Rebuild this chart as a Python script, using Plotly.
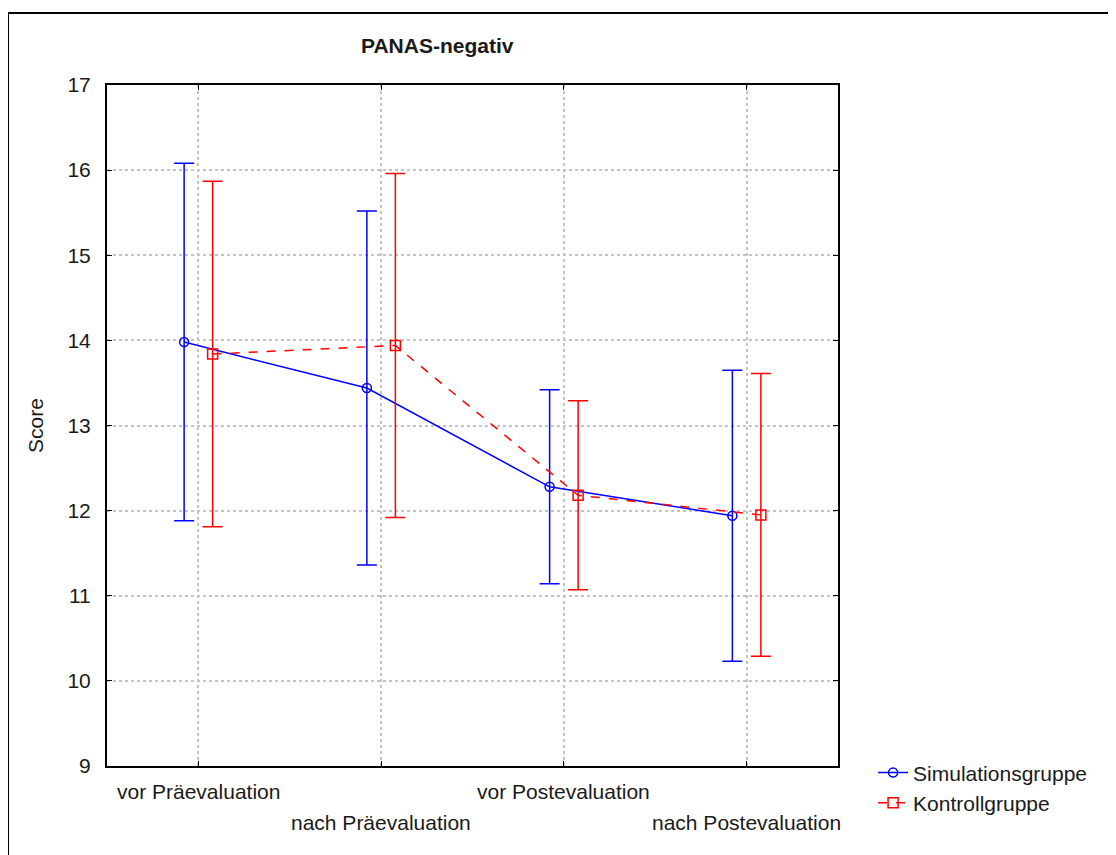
import plotly.graph_objects as go

categories = ["vor Präevaluation", "nach Präevaluation", "vor Postevaluation", "nach Postevaluation"]
sim_mean = [13.98, 13.44, 12.28, 11.94]
sim_err = [2.10, 2.08, 1.14, 1.71]
kon_mean = [13.84, 13.94, 12.18, 11.95]
kon_err = [2.03, 2.02, 1.11, 1.66]
y_ticks = [9, 10, 11, 12, 13, 14, 15, 16, 17]

FONT = "Liberation Sans, Arial, sans-serif"
FS = 21
offset = 0.078
xi = list(range(len(categories)))

fig = go.Figure()
fig.add_trace(go.Scatter(
    x=[i - offset for i in xi], y=sim_mean, name="Simulationsgruppe",
    mode="lines+markers",
    line=dict(color="#0000ff", width=1.5),
    marker=dict(symbol="circle-open", size=9, color="#0000ff", line=dict(width=1.5)),
    error_y=dict(type="data", array=sim_err, color="#0000ff", thickness=1.5, width=10),
))
fig.add_trace(go.Scatter(
    x=[i + offset for i in xi], y=kon_mean, name="Kontrollgruppe",
    mode="lines+markers",
    line=dict(color="#ff0000", width=1.5, dash="dash"),
    marker=dict(symbol="square-open", size=10, color="#ff0000", line=dict(width=1.5)),
    error_y=dict(type="data", array=kon_err, color="#ff0000", thickness=1.5, width=10),
))

annotations = []
for i, c in enumerate(categories):
    annotations.append(dict(
        x=i, y=0, xref="x", yref="paper", text=c, showarrow=False,
        xanchor="center", yanchor="top", yshift=-12 if i % 2 == 0 else -43,
        font=dict(family=FONT, size=FS, color="#1a1a1a"),
    ))
annotations.append(dict(
    x=0.452, y=1.0, xref="paper", yref="paper", text="<b>PANAS-negativ</b>",
    showarrow=False, xanchor="center", yanchor="bottom", yshift=26,
    font=dict(family=FONT, size=FS, color="#1a1a1a"),
))

fig.update_layout(
    width=1108, height=847,
    margin=dict(l=99, r=278, t=77, b=89),
    paper_bgcolor="white", plot_bgcolor="white",
    font=dict(family=FONT, size=FS, color="#1a1a1a"),
    showlegend=True,
    legend=dict(x=1.048, y=0.02, xanchor="left", yanchor="top",
                bgcolor="rgba(0,0,0,0)", font=dict(size=FS), tracegroupgap=0),
    annotations=annotations,
    shapes=[dict(type="rect", xref="paper", yref="paper",
                 x0=-0.1354, x1=1.379, y0=-0.135, y1=1.1057,
                 line=dict(color="black", width=2))],
    xaxis=dict(
        range=[-0.5, 3.5], tickvals=xi, ticktext=[""] * len(xi),
        showgrid=True, gridcolor="#c4c4c4", griddash="dot", gridwidth=1.5,
        showline=True, linecolor="black", linewidth=2, mirror="ticks",
        ticks="inside", ticklen=5, tickcolor="black", zeroline=False,
    ),
    yaxis=dict(
        range=[9, 17], tickvals=y_ticks,
        showgrid=True, gridcolor="#c4c4c4", griddash="dot", gridwidth=1.5,
        showline=True, linecolor="black", linewidth=2, mirror="ticks",
        ticks="inside", ticklen=5, tickcolor="black", zeroline=False,
        ticklabelstandoff=10,
        title=dict(text="Score", standoff=18, font=dict(size=FS)),
    ),
)

fig.write_html("out.html")
